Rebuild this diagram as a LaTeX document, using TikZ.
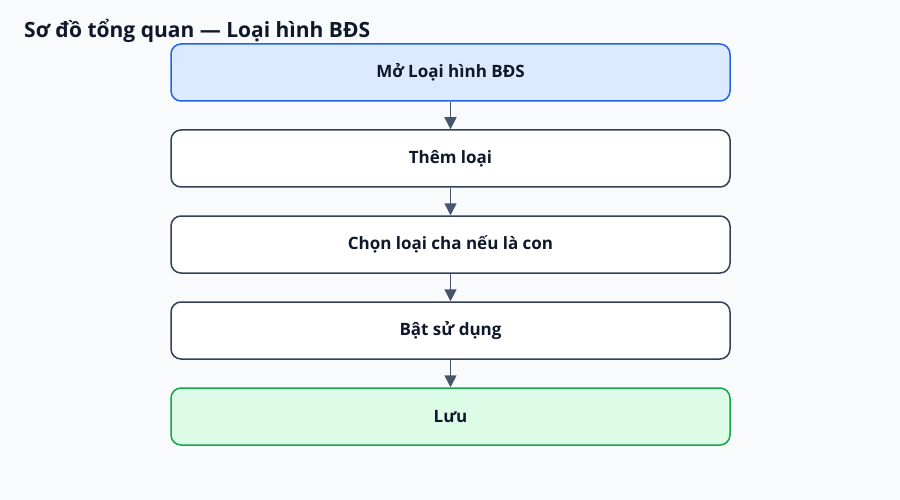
\documentclass[tikz,border=0pt]{standalone}
\usepackage{fontspec}
\setmainfont{Open Sans}
\usetikzlibrary{arrows.meta}
\definecolor{bg}{HTML}{F8FAFC}
\definecolor{txt}{HTML}{0F172A}
\definecolor{edge}{HTML}{334155}
\definecolor{arr}{HTML}{475569}
\definecolor{bluef}{HTML}{DBEAFE}
\definecolor{blued}{HTML}{2563EB}
\definecolor{greenf}{HTML}{DCFCE7}
\definecolor{greend}{HTML}{16A34A}
\tikzset{
  stepbox/.style={draw=edge, fill=white, line width=1.5pt, rounded corners=10pt,
    minimum width=559pt, minimum height=57pt, inner sep=0pt,
    font=\fontsize{17}{20}\selectfont\bfseries, text=txt},
  startbox/.style={stepbox, draw=blued, fill=bluef},
  endbox/.style={stepbox, draw=greend, fill=greenf},
  flow/.style={draw=arr, line width=1.5pt, -{Triangle[width=12pt,length=12pt]}}
}
\begin{document}
\begin{tikzpicture}[x=1pt,y=-1pt]
\fill[bg] (0,0) rectangle (900,500);
\useasboundingbox (0,0) rectangle (900,500);
\node[anchor=base west, inner sep=0pt, font=\fontsize{21}{25}\selectfont\bfseries, text=txt] (title) at (24,38) {Sơ đồ tổng quan — Loại hình BĐS};
\node[startbox] (a) at (450.5,72.5) {Mở Loại hình BĐS};
\node[stepbox] (b) at (450.5,158.5) {Thêm loại};
\node[stepbox] (c) at (450.5,244.5) {Chọn loại cha nếu là con};
\node[stepbox] (d) at (450.5,330.5) {Bật sử dụng};
\node[endbox] (e) at (450.5,416.5) {Lưu};
\draw[flow] (a.south) -- (b.north);
\draw[flow] (b.south) -- (c.north);
\draw[flow] (c.south) -- (d.north);
\draw[flow] (d.south) -- (e.north);
\end{tikzpicture}
\end{document}
